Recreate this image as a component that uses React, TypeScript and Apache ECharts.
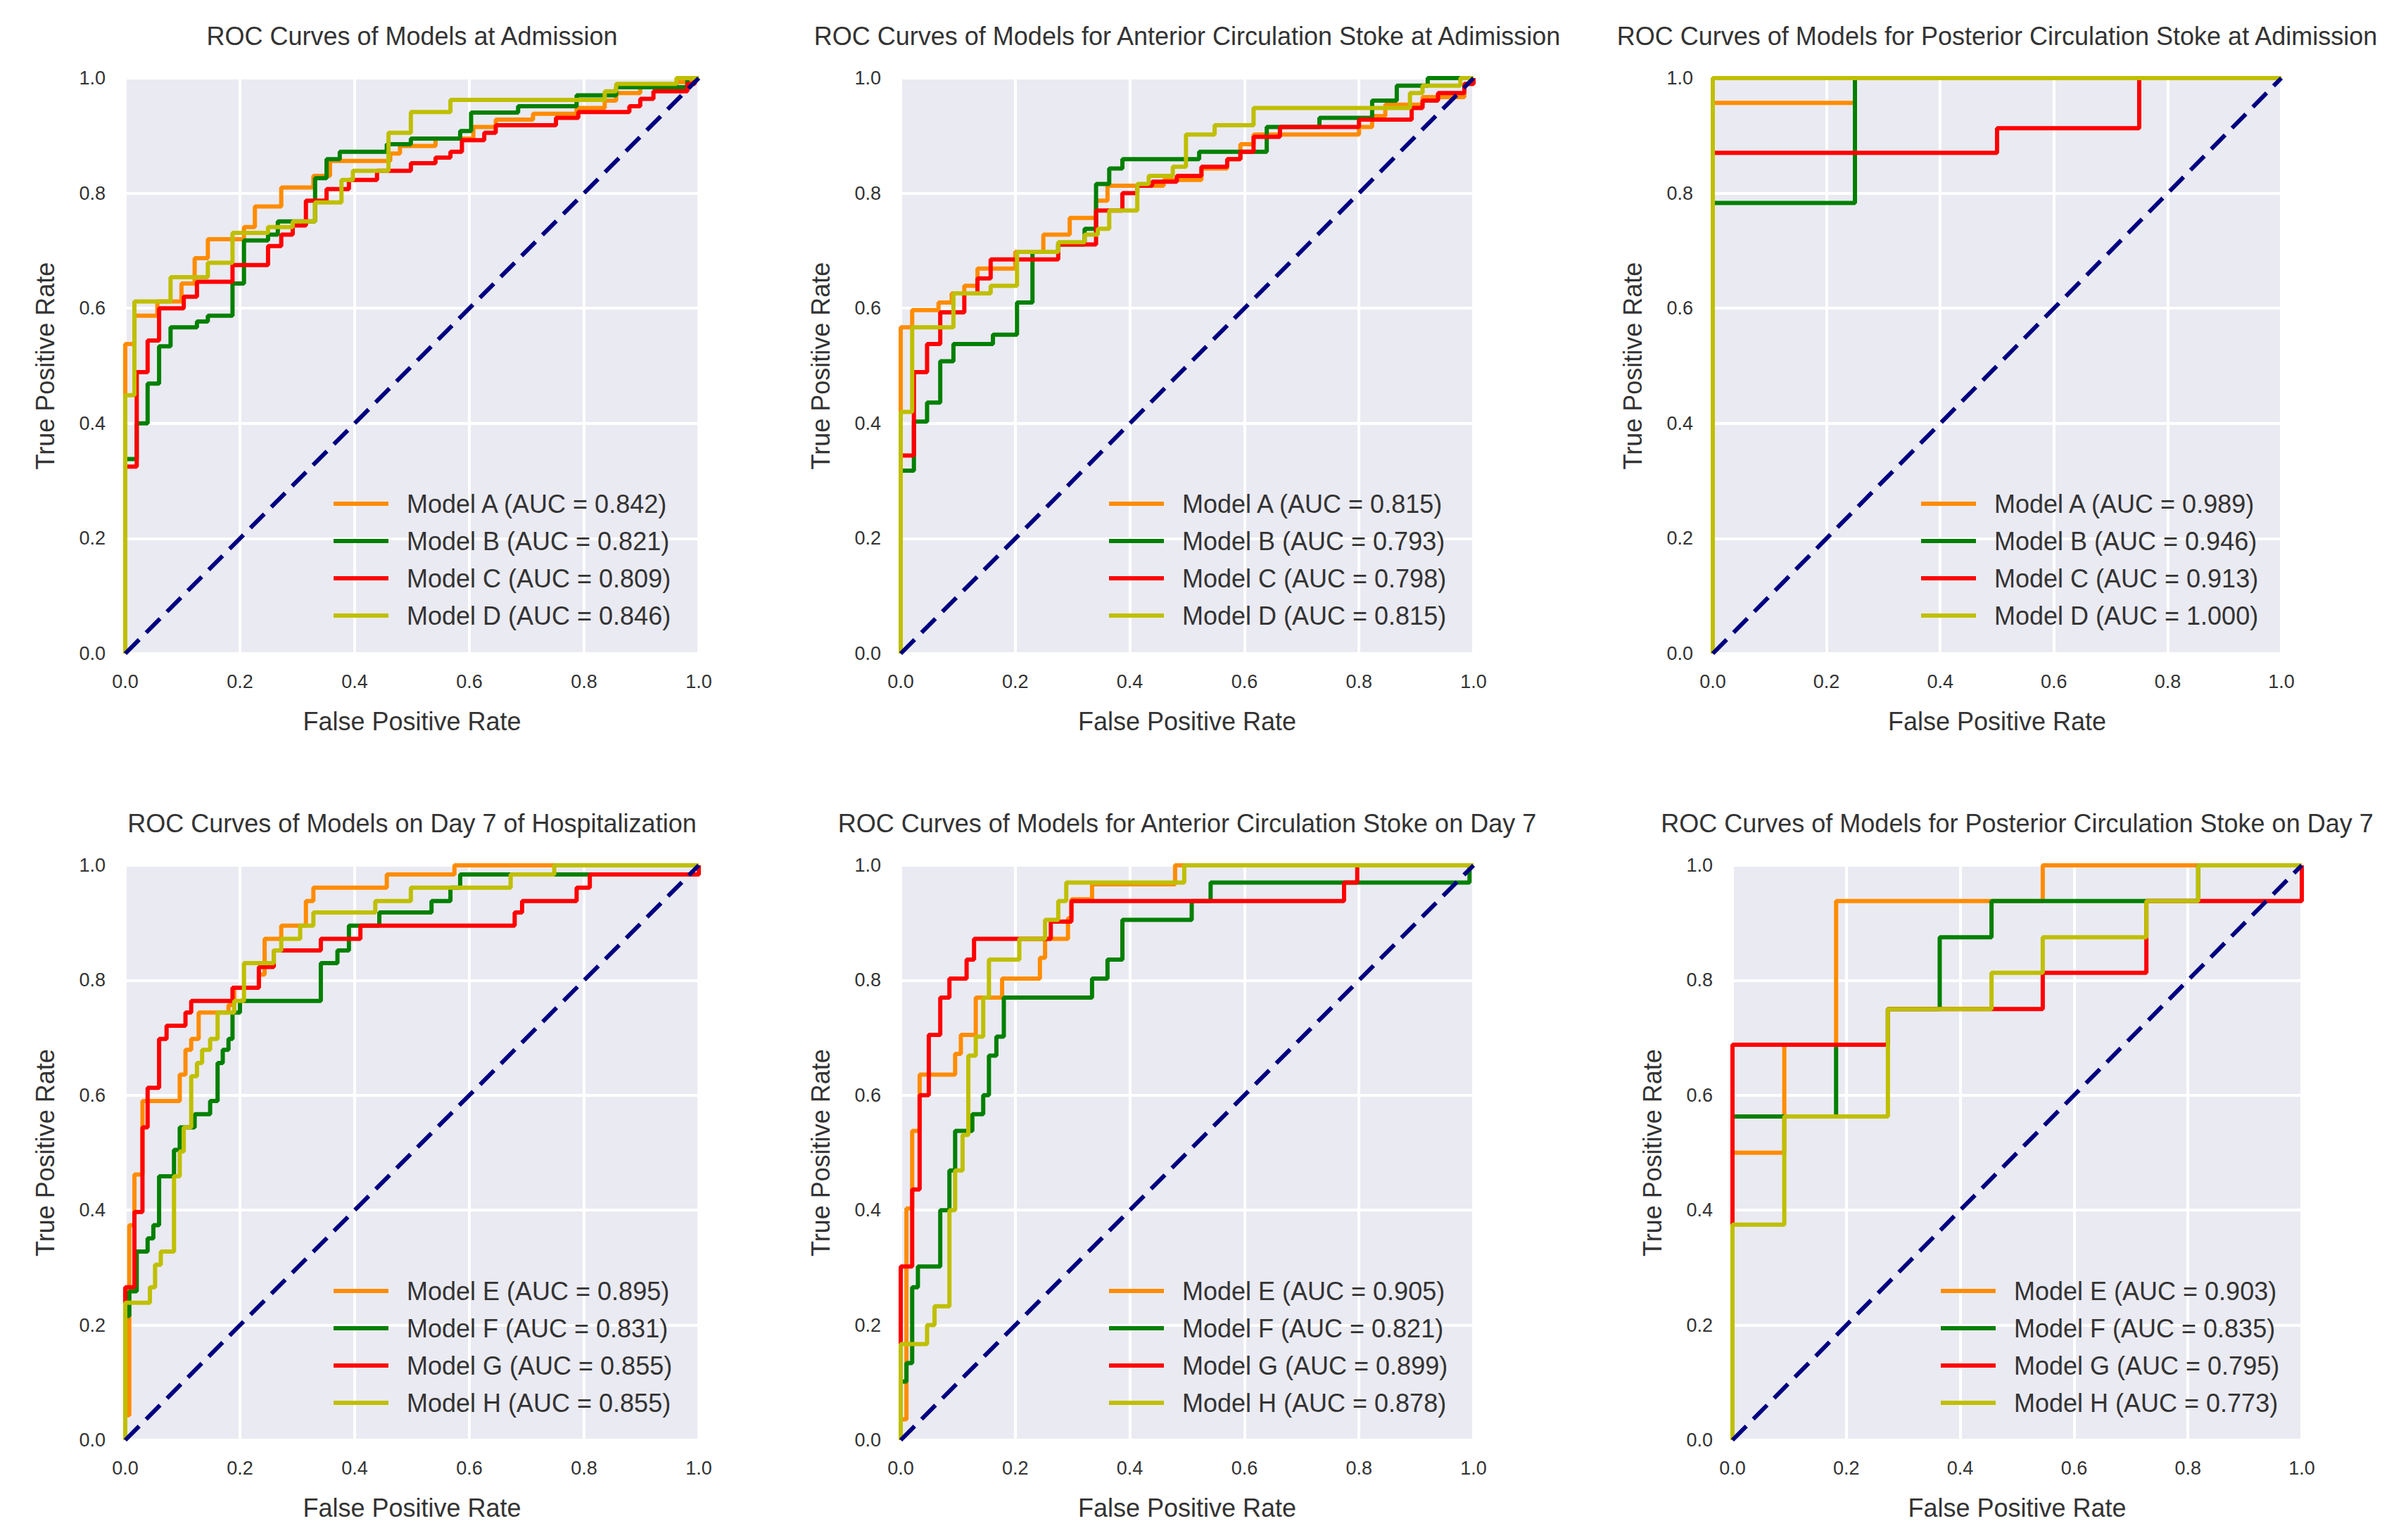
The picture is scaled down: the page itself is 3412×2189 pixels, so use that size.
import { useEffect, useRef } from "react";
import * as echarts from "echarts";

// ---------- titles & labels ----------
const TITLES = [
  "ROC Curves of Models at Admission",
  "ROC Curves of Models for Anterior Circulation Stoke at Adimission",
  "ROC Curves of Models for Posterior Circulation Stoke at Adimission",
  "ROC Curves of Models on Day 7 of Hospitalization",
  "ROC Curves of Models for Anterior Circulation Stoke on Day 7",
  "ROC Curves of Models for Posterior Circulation Stoke on Day 7",
];
const X_NAME = "False Positive Rate";
const Y_NAME = "True Positive Rate";

const LABELS_1 = ["Model A (AUC = 0.842)", "Model B (AUC = 0.821)", "Model C (AUC = 0.809)", "Model D (AUC = 0.846)"];
const LABELS_2 = ["Model A (AUC = 0.815)", "Model B (AUC = 0.793)", "Model C (AUC = 0.798)", "Model D (AUC = 0.815)"];
const LABELS_3 = ["Model A (AUC = 0.989)", "Model B (AUC = 0.946)", "Model C (AUC = 0.913)", "Model D (AUC = 1.000)"];
const LABELS_4 = ["Model E (AUC = 0.895)", "Model F (AUC = 0.831)", "Model G (AUC = 0.855)", "Model H (AUC = 0.855)"];
const LABELS_5 = ["Model E (AUC = 0.905)", "Model F (AUC = 0.821)", "Model G (AUC = 0.899)", "Model H (AUC = 0.878)"];
const LABELS_6 = ["Model E (AUC = 0.903)", "Model F (AUC = 0.835)", "Model G (AUC = 0.795)", "Model H (AUC = 0.773)"];

// ---------- ROC data: [fpr, tpr] at each step (step drawn horizontally, then up) ----------
const p1A = [[0,0],[0,0.538],[0.016,0.587],[0.056,0.612],[0.098,0.643],[0.121,0.687],[0.144,0.720],[0.207,0.741],[0.226,0.777],[0.272,0.810],[0.328,0.830],[0.357,0.856],[0.462,0.869],[0.479,0.882],[0.541,0.895],[0.607,0.915],[0.646,0.928],[0.711,0.938],[0.787,0.948],[0.836,0.961],[0.856,0.974],[0.898,0.984],[0.961,0.993],[0.987,1],[1,1]];
const p1B = [[0,0],[0,0.338],[0.020,0.400],[0.039,0.469],[0.059,0.534],[0.079,0.567],[0.125,0.577],[0.144,0.587],[0.187,0.643],[0.207,0.718],[0.249,0.728],[0.266,0.751],[0.331,0.826],[0.351,0.859],[0.374,0.872],[0.456,0.885],[0.498,0.895],[0.584,0.908],[0.603,0.940],[0.685,0.951],[0.787,0.970],[0.856,0.984],[0.980,1],[1,1]];
const p1C = [[0,0],[0,0.325],[0.020,0.489],[0.039,0.544],[0.059,0.600],[0.102,0.620],[0.125,0.646],[0.187,0.675],[0.249,0.708],[0.272,0.728],[0.292,0.744],[0.315,0.787],[0.351,0.807],[0.390,0.823],[0.439,0.839],[0.498,0.852],[0.541,0.862],[0.567,0.872],[0.587,0.892],[0.626,0.905],[0.646,0.918],[0.751,0.931],[0.790,0.941],[0.879,0.951],[0.898,0.964],[0.921,0.977],[0.980,0.990],[0.993,1],[1,1]];
const p1D = [[0,0],[0,0.449],[0.016,0.612],[0.079,0.654],[0.144,0.679],[0.187,0.731],[0.249,0.741],[0.292,0.751],[0.331,0.784],[0.377,0.823],[0.397,0.839],[0.459,0.905],[0.498,0.941],[0.567,0.962],[0.836,0.977],[0.856,0.990],[0.961,1],[1,1]];

const p2A = [[0,0],[0,0.567],[0.020,0.597],[0.066,0.610],[0.089,0.626],[0.111,0.639],[0.134,0.669],[0.200,0.698],[0.249,0.728],[0.295,0.757],[0.341,0.787],[0.361,0.813],[0.459,0.823],[0.525,0.843],[0.570,0.859],[0.593,0.885],[0.616,0.902],[0.800,0.915],[0.823,0.934],[0.846,0.954],[0.911,0.967],[0.984,0.990],[1,1]];
const p2B = [[0,0],[0,0.318],[0.023,0.403],[0.046,0.436],[0.069,0.508],[0.092,0.538],[0.161,0.554],[0.203,0.610],[0.230,0.698],[0.275,0.711],[0.321,0.738],[0.341,0.816],[0.364,0.843],[0.387,0.859],[0.521,0.872],[0.639,0.915],[0.731,0.931],[0.823,0.961],[0.866,0.987],[0.920,1],[1,1]];
const p2C = [[0,0],[0,0.344],[0.023,0.489],[0.046,0.538],[0.069,0.593],[0.111,0.626],[0.134,0.652],[0.157,0.685],[0.275,0.711],[0.341,0.770],[0.387,0.800],[0.413,0.813],[0.439,0.820],[0.482,0.830],[0.525,0.846],[0.570,0.859],[0.593,0.872],[0.616,0.898],[0.662,0.915],[0.800,0.928],[0.892,0.948],[0.911,0.961],[0.938,0.974],[0.984,0.990],[1,1]];
const p2D = [[0,0],[0,0.420],[0.020,0.567],[0.092,0.626],[0.157,0.639],[0.203,0.698],[0.275,0.715],[0.321,0.728],[0.344,0.738],[0.364,0.770],[0.413,0.816],[0.433,0.830],[0.475,0.846],[0.498,0.902],[0.548,0.918],[0.616,0.948],[0.889,0.974],[0.911,0.987],[0.977,1],[1,1]];

const p3A = [[0,0],[0,0.957],[0.25,1],[1,1]];
const p3B = [[0,0],[0,0.783],[0.25,1],[1,1]];
const p3C = [[0,0],[0,0.870],[0.5,0.913],[0.75,1],[1,1]];
const p3D = [[0,0],[0,1],[1,1]];

const p4E = [[0,0],[0,0.043],[0.007,0.374],[0.016,0.462],[0.030,0.590],[0.095,0.636],[0.105,0.679],[0.115,0.698],[0.128,0.744],[0.180,0.757],[0.190,0.787],[0.233,0.810],[0.243,0.872],[0.272,0.895],[0.315,0.938],[0.328,0.961],[0.456,0.984],[0.574,1],[1,1]];
const p4F = [[0,0],[0,0.216],[0.007,0.259],[0.020,0.328],[0.039,0.351],[0.049,0.374],[0.059,0.459],[0.085,0.505],[0.095,0.544],[0.121,0.567],[0.148,0.590],[0.161,0.656],[0.170,0.679],[0.180,0.698],[0.187,0.744],[0.200,0.764],[0.341,0.830],[0.370,0.852],[0.390,0.895],[0.443,0.918],[0.534,0.938],[0.567,0.961],[0.584,0.984],[1,1]];
const p4G = [[0,0],[0,0.266],[0.016,0.397],[0.030,0.544],[0.039,0.613],[0.059,0.698],[0.072,0.721],[0.105,0.744],[0.115,0.764],[0.187,0.787],[0.233,0.823],[0.259,0.852],[0.341,0.872],[0.410,0.895],[0.679,0.918],[0.692,0.938],[0.787,0.961],[0.810,0.984],[1,1]];
const p4H = [[0,0],[0,0.239],[0.043,0.266],[0.052,0.305],[0.062,0.328],[0.085,0.459],[0.095,0.502],[0.102,0.544],[0.115,0.633],[0.125,0.656],[0.134,0.679],[0.148,0.698],[0.161,0.744],[0.190,0.764],[0.207,0.830],[0.259,0.852],[0.272,0.872],[0.305,0.895],[0.328,0.918],[0.436,0.938],[0.498,0.961],[0.672,0.984],[0.748,1],[1,1]];

const p5E = [[0,0],[0,0.036],[0.010,0.403],[0.020,0.538],[0.033,0.636],[0.095,0.672],[0.105,0.705],[0.131,0.770],[0.177,0.803],[0.243,0.839],[0.252,0.872],[0.292,0.908],[0.298,0.941],[0.334,0.967],[0.479,1],[1,1]];
const p5F = [[0,0],[0,0.102],[0.010,0.134],[0.020,0.266],[0.030,0.302],[0.069,0.400],[0.085,0.469],[0.095,0.538],[0.125,0.567],[0.144,0.600],[0.154,0.669],[0.167,0.702],[0.180,0.770],[0.334,0.803],[0.361,0.836],[0.387,0.905],[0.508,0.938],[0.541,0.970],[0.993,1],[1,1]];
const p5G = [[0,0],[0,0.302],[0.020,0.436],[0.033,0.600],[0.049,0.705],[0.069,0.770],[0.085,0.803],[0.115,0.836],[0.128,0.872],[0.262,0.902],[0.298,0.938],[0.774,0.970],[0.797,1],[1,1]];
const p5H = [[0,0],[0,0.167],[0.046,0.200],[0.059,0.233],[0.085,0.400],[0.095,0.469],[0.108,0.531],[0.118,0.669],[0.131,0.702],[0.144,0.770],[0.154,0.836],[0.207,0.872],[0.252,0.905],[0.275,0.938],[0.289,0.970],[0.495,1],[1,1]];

const p6E = [[0,0],[0,0.5],[0.091,0.688],[0.182,0.938],[0.545,1],[1,1]];
const p6F = [[0,0],[0,0.563],[0.182,0.688],[0.273,0.75],[0.364,0.875],[0.455,0.938],[0.818,1],[1,1]];
const p6G = [[0,0],[0,0.688],[0.273,0.75],[0.545,0.813],[0.727,0.938],[1,1]];
const p6H = [[0,0],[0,0.375],[0.091,0.563],[0.273,0.75],[0.455,0.813],[0.545,0.875],[0.727,0.938],[0.818,1],[1,1]];

const CHANCE = [[0,0],[1,1]];

// ---------- layout & style ----------
const W = 3412;
const H = 2189;
const COLORS = ["#FF8C00", "#008000", "#FF0000", "#BFBF00"];
const NAVY = "#000080";
const TEXT = "#333333";
const FONT = "'Liberation Sans', Arial, sans-serif";

const PANELS = [
  { left: 178, top: 111, width: 815, height: 818, labels: LABELS_1, data: [p1A, p1B, p1C, p1D] },
  { left: 1280, top: 111, width: 814, height: 818, labels: LABELS_2, data: [p2A, p2B, p2C, p2D] },
  { left: 2434, top: 111, width: 808, height: 818, labels: LABELS_3, data: [p3A, p3B, p3C, p3D] },
  { left: 178, top: 1230, width: 815, height: 817, labels: LABELS_4, data: [p4E, p4F, p4G, p4H] },
  { left: 1280, top: 1230, width: 814, height: 817, labels: LABELS_5, data: [p5E, p5F, p5G, p5H] },
  { left: 2462, top: 1230, width: 809, height: 817, labels: LABELS_6, data: [p6E, p6F, p6G, p6H] },
];

function buildOption() {
  const axisCommon = {
    type: "value",
    min: 0,
    max: 1,
    interval: 0.2,
    axisLine: { show: false },
    axisTick: { show: false },
    splitLine: { show: true, lineStyle: { color: "#FFFFFF", width: 4 } },
    nameLocation: "middle",
    nameTextStyle: { fontSize: 36, color: TEXT, fontFamily: FONT },
  };
  const series: any[] = [];
  PANELS.forEach((p, i) => {
    p.data.forEach((d, j) => {
      series.push({
        type: "line",
        name: p.labels[j],
        xAxisIndex: i,
        yAxisIndex: i,
        data: d,
        step: "end",
        symbol: "none",
        showSymbol: false,
        silent: true,
        clip: true,
        lineStyle: { color: COLORS[j], width: 6 },
        itemStyle: { color: COLORS[j] },
      });
    });
    series.push({
      type: "line",
      name: "chance" + i,
      xAxisIndex: i,
      yAxisIndex: i,
      data: CHANCE,
      symbol: "none",
      showSymbol: false,
      silent: true,
      lineStyle: { color: NAVY, width: 6, type: [28, 14] },
      itemStyle: { color: NAVY },
    });
  });

  return {
    animation: false,
    backgroundColor: "#FFFFFF",
    textStyle: { fontFamily: FONT },
    title: PANELS.map((p, i) => ({
      text: TITLES[i],
      left: p.left + p.width / 2,
      top: p.top - 78,
      textAlign: "center",
      padding: 0,
      textStyle: { fontSize: 36, fontWeight: "normal", color: TEXT, fontFamily: FONT },
    })),
    grid: PANELS.map((p) => ({
      left: p.left,
      top: p.top,
      width: p.width,
      height: p.height,
      show: true,
      backgroundColor: "#EAEAF2",
      borderWidth: 0,
      containLabel: false,
    })),
    xAxis: PANELS.map((p, i) => ({
      ...axisCommon,
      gridIndex: i,
      name: X_NAME,
      nameGap: 78,
      axisLabel: { fontSize: 27, color: TEXT, margin: 26, fontFamily: FONT, formatter: (v: number) => v.toFixed(1) },
    })),
    yAxis: PANELS.map((p, i) => ({
      ...axisCommon,
      gridIndex: i,
      name: Y_NAME,
      nameGap: 96,
      axisLabel: { fontSize: 27, color: TEXT, margin: 28, fontFamily: FONT, formatter: (v: number) => v.toFixed(1) },
    })),
    legend: PANELS.map((p) => ({
      data: p.labels,
      orient: "vertical",
      left: p.left + 296,
      top: p.top + 587,
      padding: 0,
      icon: "rect",
      itemWidth: 78,
      itemHeight: 6,
      itemGap: 17,
      selectedMode: false,
      textStyle: { fontSize: 36, color: TEXT, lineHeight: 36, fontFamily: FONT, padding: [0, 0, 0, 21] },
    })),
    series,
  };
}

export default function App() {
  const ref = useRef<HTMLDivElement>(null);
  useEffect(() => {
    if (!ref.current) return;
    const chart = echarts.init(ref.current, null, { renderer: "svg", width: W, height: H });
    chart.setOption(buildOption() as any);
    return () => chart.dispose();
  }, []);
  return (
    <div
      ref={ref}
      style={{ position: "fixed", left: 0, top: 0, width: W + "px", height: H + "px", background: "#FFFFFF" }}
    />
  );
}
